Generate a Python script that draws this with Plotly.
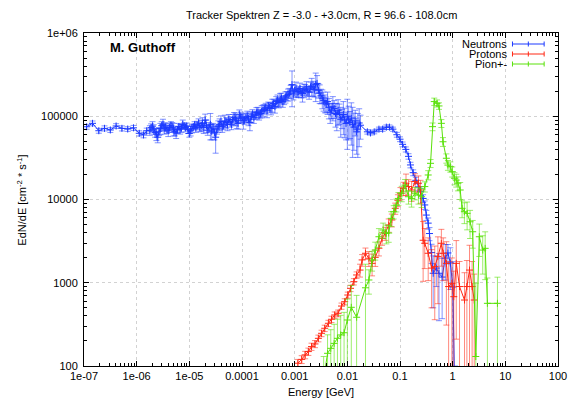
import plotly.graph_objects as go

# ---------------- Neutrons ----------------
n_energy = [
    # coarse bins at thermal energies
    1.12e-7, 1.45e-7, 1.91e-7, 2.45e-7, 3.16e-7, 4.07e-7, 5.25e-7, 6.76e-7, 8.71e-7, 1.12e-6,
    1.35e-6, 1.55e-6,
    # fine bins, epithermal to fast
    1.78e-6, 1.88e-6, 2.00e-6, 2.11e-6, 2.24e-6, 2.37e-6, 2.51e-6, 2.66e-6, 2.82e-6, 2.99e-6,
    3.16e-6, 3.35e-6, 3.55e-6, 3.76e-6, 3.98e-6, 4.22e-6, 4.47e-6, 4.73e-6, 5.01e-6, 5.31e-6,
    5.62e-6, 5.96e-6, 6.31e-6, 6.68e-6, 7.08e-6, 7.50e-6, 7.94e-6, 8.41e-6, 8.91e-6, 9.44e-6,
    1.00e-5, 1.06e-5, 1.12e-5, 1.19e-5, 1.26e-5, 1.33e-5, 1.41e-5, 1.50e-5, 1.58e-5, 1.68e-5,
    1.78e-5, 1.88e-5, 2.00e-5, 2.11e-5, 2.24e-5, 2.37e-5, 2.51e-5, 2.66e-5, 2.82e-5, 2.99e-5,
    3.16e-5, 3.35e-5, 3.55e-5, 3.76e-5, 3.98e-5, 4.22e-5, 4.47e-5, 4.73e-5, 5.01e-5, 5.31e-5,
    5.62e-5, 5.96e-5, 6.31e-5, 6.68e-5, 7.08e-5, 7.50e-5, 7.94e-5, 8.41e-5, 8.91e-5, 9.44e-5,
    1.00e-4, 1.06e-4, 1.12e-4, 1.19e-4, 1.26e-4, 1.33e-4, 1.41e-4, 1.50e-4, 1.58e-4, 1.68e-4,
    1.78e-4, 1.88e-4, 2.00e-4, 2.11e-4, 2.24e-4, 2.37e-4, 2.51e-4, 2.66e-4, 2.82e-4, 2.99e-4,
    3.16e-4, 3.35e-4, 3.55e-4, 3.76e-4, 3.98e-4, 4.22e-4, 4.47e-4, 4.73e-4, 5.01e-4, 5.31e-4,
    5.62e-4, 5.96e-4, 6.31e-4, 6.68e-4, 7.08e-4, 7.50e-4, 7.94e-4, 8.41e-4, 8.91e-4, 9.44e-4,
    1.00e-3, 1.06e-3, 1.12e-3, 1.19e-3, 1.26e-3, 1.33e-3, 1.41e-3, 1.50e-3, 1.58e-3, 1.68e-3,
    1.78e-3, 1.88e-3, 2.00e-3, 2.11e-3, 2.24e-3, 2.37e-3, 2.51e-3, 2.66e-3, 2.82e-3, 2.99e-3,
    3.16e-3, 3.35e-3, 3.55e-3, 3.76e-3, 3.98e-3, 4.22e-3, 4.47e-3, 4.73e-3, 5.01e-3, 5.31e-3,
    5.62e-3, 5.96e-3, 6.31e-3, 6.68e-3, 7.08e-3, 7.50e-3, 7.94e-3, 8.41e-3, 8.91e-3, 9.44e-3,
    1.00e-2, 1.06e-2, 1.12e-2, 1.19e-2, 1.26e-2, 1.33e-2, 1.41e-2, 1.50e-2, 1.58e-2, 1.68e-2,
    1.78e-2,
    # high-energy tail
    2.40e-2, 2.75e-2, 3.24e-2, 3.98e-2, 4.68e-2, 5.50e-2, 6.31e-2, 7.33e-2, 8.71e-2, 0.100,
    0.112, 0.129, 0.145, 0.158, 0.178, 0.200, 0.224, 0.245, 0.275, 0.295,
    0.316, 0.343, 0.363, 0.398, 0.427, 0.490, 0.550, 0.631, 0.724, 0.813,
    0.902, 1.01, 1.10,
]
n_flux = [
    74800, 82200, 67000, 71600, 68400, 76400, 71600, 70300, 72600, 62400,
    59600, 67000,
    68000, 73000, 76000, 70000, 64000, 61000, 56000, 66000, 71000, 77000,
    80000, 72000, 74000, 70000, 67000, 73000, 78000, 74000, 70000, 66000,
    63000, 69000, 75000, 70000, 72000, 80000, 77000, 73000, 76000, 69000,
    62000, 67000, 71000, 75000, 79000, 72000, 78000, 83000, 74000, 77000,
    82000, 73000, 90000, 77000, 68000, 74000, 80000, 66000, 72000, 64000,
    56000, 70000, 76000, 80000, 86000, 75000, 78000, 88000, 84000, 80000,
    92000, 86000, 80000, 91000, 97000, 93000, 88000, 82000, 104000, 98000,
    95000, 88000, 90000, 96000, 100000, 93000, 84000, 99000, 106000, 97000,
    103000, 110000, 112000, 104000, 108000, 115000, 118000, 122000, 126000, 116000,
    133000, 128000, 124000, 136000, 142000, 130000, 150000, 155000, 146000, 160000,
    165000, 150000, 158000, 170000, 176000, 182000, 190000, 200000, 240000, 185000,
    205000, 212000, 196000, 198000, 215000, 192000, 188000, 205000, 210000, 218000,
    200000, 195000, 225000, 230000, 218000, 210000, 240000, 248000, 205000, 190000,
    176000, 165000, 155000, 145000, 140000, 150000, 128000, 112000, 118000, 130000,
    124000, 108000, 105000, 118000, 110000, 92000, 96000, 105000, 90000, 82000,
    100000, 92000, 84000, 95000, 80000, 74000, 88000, 65000, 70000, 83000,
    78000,
    65000, 63000, 65000, 70000, 70000, 74000, 74000, 70000, 60000, 53000,
    46000, 40000, 33000, 26000, 21000, 17000, 14200, 12400, 10300, 8600,
    6500, 5200, 3900, 2300, 1300, 1500, 1300, 1170, 1980, 2280,
    1730, 890, 40,
]
n_err = [
    5000, 5500, 4500, 5000, 4500, 5000, 5000, 4500, 5000, 4500,
    4500, 5000,
    9000, 8000, 10000, 9000, 8000, 10000, 8000, 7000, 11000, 9000,
    12000, 11000, 9000, 8000, 10000, 9000, 8000, 10000, 12000, 8000,
    9000, 7000, 7000, 9000, 8000, 10000, 6000, 8000, 7000, 7000,
    6000, 9000, 8000, 6000, 7000, 8000, 9000, 10000, 8000, 12000,
    14000, 11000, 16000, 13000, 9000, 10000, 28000, 14000, 10000, 12000,
    20000, 9000, 12000, 13000, 15000, 11000, 9000, 15000, 12000, 13000,
    13000, 12000, 11000, 14000, 14000, 16000, 17000, 12000, 15000, 14000,
    12000, 18000, 10000, 13000, 15000, 16000, 17000, 14000, 14000, 15000,
    12000, 17000, 16000, 14000, 13000, 19000, 18000, 16000, 17000, 20000,
    15000, 18000, 20000, 24000, 18000, 21000, 22000, 25000, 20000, 28000,
    24000, 22000, 20000, 26000, 22000, 30000, 26000, 35000, 110000, 28000,
    30000, 45000, 25000, 30000, 35000, 26000, 40000, 38000, 30000, 42000,
    28000, 35000, 32000, 55000, 45000, 40000, 90000, 60000, 40000, 48000,
    35000, 42000, 40000, 35000, 30000, 45000, 35000, 30000, 25000, 42000,
    30000, 34000, 38000, 40000, 30000, 36000, 25000, 45000, 35000, 30000,
    60000, 40000, 30000, 50000, 48000, 35000, 30000, 30000, 38000, 40000,
    25000,
    4000, 3500, 3500, 4000, 4000, 4500, 4500, 4000, 4000, 3500,
    3000, 2800, 2500, 2000, 1700, 1500, 1300, 1200, 1100, 1000,
    900, 800, 700, 600, 800, 600, 950, 800, 900, 600,
    900, 900, 60,
]

# ---------------- Protons ----------------
p_energy = [
    1.15e-3, 1.36e-3, 1.58e-3, 1.82e-3, 2.09e-3, 2.43e-3, 2.82e-3, 3.24e-3, 3.72e-3, 4.37e-3,
    5.01e-3, 5.75e-3, 6.68e-3, 7.76e-3, 8.91e-3, 1.02e-2, 1.15e-2, 1.33e-2, 1.50e-2, 1.74e-2,
    1.91e-2, 2.21e-2, 2.57e-2, 2.95e-2, 3.39e-2, 3.98e-2, 4.57e-2, 5.25e-2, 6.10e-2, 7.00e-2,
    8.13e-2, 9.12e-2, 0.102, 0.116, 0.130, 0.145, 0.166, 0.193, 0.224, 0.245,
    0.275, 0.295, 0.343, 0.398, 0.457, 0.525, 0.610, 0.661, 0.759, 0.838,
    0.966, 1.05, 1.17, 1.35, 1.68, 1.86, 2.09, 2.34, 2.57,
]
p_flux = [
    108, 120, 136, 149, 171, 184, 215, 247, 284, 326,
    364, 410, 430, 525, 592, 712, 857, 1030, 1240, 1420,
    1880, 2260, 1970, 1710, 2020, 2600, 3420, 3930, 4940, 5680,
    7840, 9800, 11900, 13600, 15700, 14300, 13000, 16400, 15700, 13000,
    3240, 2980, 2260, 1500, 1560, 2060, 2980, 2260, 1710, 900,
    985, 680, 1710, 900, 620, 900, 1420, 900, 620,
]
p_err = [
    12, 13, 14, 15, 17, 18, 20, 22, 25, 28,
    32, 36, 40, 45, 50, 60, 75, 90, 110, 250,
    300, 350, 400, 500, 450, 500, 600, 700, 900, 1000,
    1200, 1600, 2000, 2500, 4500, 3000, 3500, 4000, 3500, 4000,
    2200, 1500, 1200, 1000, 1200, 1500, 1400, 1200, 1400, 900,
    1000, 700, 1500, 900, 700, 950, 1400, 900, 650,
]

# ---------------- Pions ----------------
pi_energy = [
    3.55e-3, 4.21e-3, 4.85e-3, 5.62e-3, 6.49e-3, 7.48e-3, 8.67e-3, 1.00e-2, 1.19e-2, 1.50e-2,
    2.21e-2, 2.57e-2, 2.95e-2, 3.39e-2, 3.98e-2, 4.79e-2, 5.50e-2, 6.10e-2, 6.81e-2, 7.59e-2,
    8.51e-2, 9.33e-2, 0.108, 0.125, 0.145, 0.166, 0.192, 0.224, 0.257, 0.296,
    0.343, 0.380, 0.414, 0.447, 0.505, 0.550, 0.611, 0.655, 0.759, 0.813,
    0.902, 0.982, 1.08, 1.17, 1.26, 1.39, 1.51, 1.67, 1.88, 2.14,
    2.40, 2.75, 3.21, 3.72, 4.14, 4.57, 7.08,
]
pi_flux = [
    70, 142, 163, 187, 215, 236, 251, 357, 507, 385,
    870, 1080, 1880, 2470, 3570, 4300, 3930, 3960, 5940, 7130,
    8590, 10300, 11900, 14900, 10800, 10300, 11900, 11300, 10800, 14300,
    19700, 27200, 75000, 150000, 143000, 133000, 82200, 49400, 31300, 25900,
    24800, 21600, 18000, 17100, 15700, 13000, 7840, 7130, 6820, 5400,
    4100, 130, 3570, 2470, 2590, 566, 566,
]
pi_err = [
    60, 95, 110, 130, 150, 170, 190, 280, 420, 320,
    800, 350, 500, 600, 900, 900, 1000, 900, 1200, 1300,
    1500, 1800, 2500, 2500, 2000, 2200, 2000, 2500, 2800, 2000,
    2500, 3000, 8000, 15000, 14000, 12000, 9000, 6000, 4000, 3500,
    3500, 3000, 3000, 3000, 3000, 3000, 1800, 2000, 2500, 2000,
    1500, 860, 1500, 1200, 1500, 574, 600,
]

# ---------------- Axis ticks ----------------
x_tick_vals = [1e-7, 1e-6, 1e-5, 1e-4, 1e-3, 1e-2, 1e-1, 1, 10, 100]
x_tick_text = ["1e-07", "1e-06", "1e-05", "0.0001", "0.001", "0.01", "0.1", "1", "10", "100"]
y_tick_vals = [100, 1000, 10000, 100000, 1000000]
y_tick_text = ["100", "1000", "10000", "100000", "1e+06"]

series = [
    ("Neutrons", n_energy, n_flux, n_err, "rgb(28,58,255)", "rgba(28,58,255,0.55)"),
    ("Protons", p_energy, p_flux, p_err, "rgb(255,40,20)", "rgba(255,40,20,0.55)"),
    ("Pion+-", pi_energy, pi_flux, pi_err, "rgb(90,225,10)", "rgba(90,225,10,0.6)"),
]

W, H = 579, 400
ML, MR, MT, MB = 84, 16, 33, 34
PW, PH = W - ML - MR, H - MT - MB
FONT = "Liberation Sans, Arial, Helvetica, sans-serif"


def px(xp):
    return (xp - ML) / PW


def py(yp):
    return (H - MB - yp) / PH


fig = go.Figure()
for name, e, v, err, col, barcol in series:
    fig.add_trace(go.Scatter(
        x=e, y=v, mode="lines+markers", name=name, showlegend=False,
        line=dict(color=col, width=1),
        marker=dict(symbol="cross-thin", size=5, color=col, line=dict(color=col, width=1)),
        error_y=dict(type="data", array=err, visible=True, color=barcol, thickness=1, width=3),
    ))

axis_common = dict(
    type="log", showline=True, linecolor="black", linewidth=1, mirror="allticks",
    ticks="inside", ticklen=5, tickcolor="black", tickwidth=1,
    showgrid=True, gridcolor="#d2d2d2", griddash="dot", gridwidth=1,
    zeroline=False, tickfont=dict(family=FONT, size=11, color="black"),
    tickmode="array",
    minor=dict(ticks="inside", ticklen=3, tickcolor="black", dtick="D1", showgrid=False),
)

fig.update_layout(
    width=W, height=H,
    margin=dict(l=ML, r=MR, t=MT, b=MB),
    paper_bgcolor="white", plot_bgcolor="white",
    font=dict(family=FONT, size=11, color="black"),
    xaxis=dict(axis_common, range=[-7, 2], tickvals=x_tick_vals, ticktext=x_tick_text),
    yaxis=dict(axis_common, range=[2, 6], tickvals=y_tick_vals, ticktext=y_tick_text,
               ticklabelstandoff=3),
    showlegend=False,
)

annotations = [
    dict(text="Tracker Spektren Z = -3.0 - +3.0cm, R = 96.6 - 108.0cm",
         x=px(323.5), y=py(15), font=dict(size=11)),
    dict(text="<b>M. Guthoff</b>", x=px(108), y=py(48), xanchor="left", font=dict(size=13)),
    dict(text="Energy [GeV]", x=px(323.5), y=py(392), font=dict(size=11)),
    dict(text="EdN/dE [cm<sup>-2</sup> * s<sup>-1</sup>]", x=px(21), y=py(200),
         textangle=-90, font=dict(size=11)),
]
shapes = []
legend_rows = [44, 54, 64]
for (name, _, _, _, col, _), ly in zip(series, legend_rows):
    annotations.append(dict(text=name, x=px(512), y=py(ly), xanchor="right",
                            height=10, borderpad=0, font=dict(size=11)))
    shapes.append(dict(type="line", xref="paper", yref="paper", x0=px(517), x1=px(549),
                       y0=py(ly), y1=py(ly), line=dict(color=col, width=1)))
    for cx in (517, 549, 533):
        shapes.append(dict(type="line", xref="paper", yref="paper", x0=px(cx), x1=px(cx),
                           y0=py(ly - 2.5), y1=py(ly + 2.5), line=dict(color=col, width=1)))

for a in annotations:
    a.setdefault("xref", "paper")
    a.setdefault("yref", "paper")
    a.setdefault("showarrow", False)
    a.setdefault("xanchor", "center")
    a.setdefault("yanchor", "middle")
fig.update_layout(annotations=annotations, shapes=shapes)

fig.write_html("out.html")
